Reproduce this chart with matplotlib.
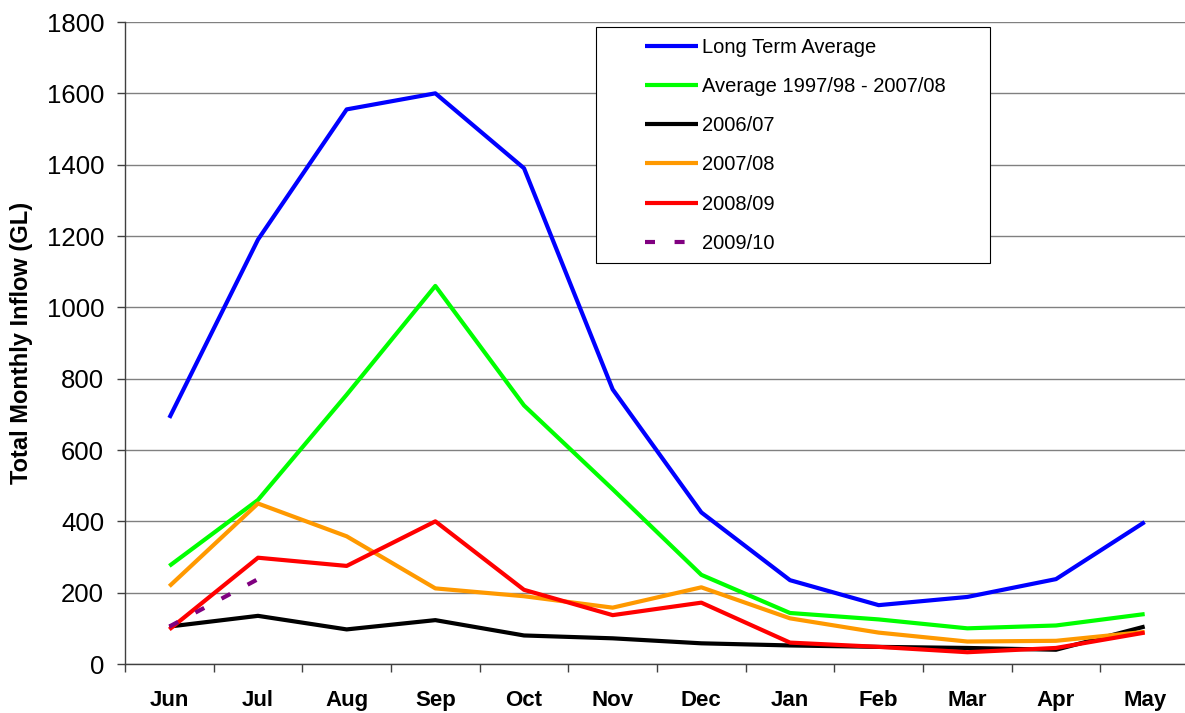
import numpy as np
import matplotlib
matplotlib.use("Agg")
from matplotlib import pyplot as plt
from matplotlib.patches import Rectangle

plt.rcParams['font.family'] = ['Liberation Sans', 'DejaVu Sans']

months = ['Jun', 'Jul', 'Aug', 'Sep', 'Oct', 'Nov', 'Dec', 'Jan', 'Feb', 'Mar', 'Apr', 'May']

long_term_avg = [690, 1190, 1555, 1600, 1390, 770, 425, 235, 165, 188, 238, 398]
avg_9708 = [275, 460, 755, 1060, 725, 490, 250, 143, 125, 100, 108, 140]
y2006_07 = [105, 135, 97, 123, 80, 72, 58, 52, 48, 45, 40, 105]
y2007_08 = [218, 450, 358, 212, 190, 158, 215, 128, 88, 63, 65, 90]
y2008_09 = [97, 298, 275, 400, 208, 137, 172, 60, 48, 33, 45, 88]
y2009_10 = [105, 238]

series = [
    ("Long Term Average", long_term_avg, "#0000FF"),
    ("Average 1997/98 - 2007/08", avg_9708, "#00FF00"),
    ("2006/07", y2006_07, "#000000"),
    ("2007/08", y2007_08, "#FF9900"),
    ("2008/09", y2008_09, "#FF0000"),
]

fig = plt.figure(figsize=(11.85, 7.13), dpi=100)
ax = fig.add_axes([125 / 1185, 49 / 713, 1064 / 1185, 642 / 713])

x = np.arange(len(months))
for label, vals, col in series:
    ax.plot(x[:len(vals)], vals, color=col, lw=3, label=label,
            solid_capstyle='butt', zorder=3)
ax.plot(x[:len(y2009_10)], y2009_10, color="#800080", lw=3, label="2009/10",
        dashes=(2.4, 4.7), dash_capstyle='butt', zorder=3)

ax.set_xlim(-0.5, 11.5)
ax.set_ylim(0, 1800)
ax.set_yticks(np.arange(0, 1801, 200))
ax.set_xticks(x)
ax.set_xticklabels(months, fontsize=16, fontweight='bold')
ax.set_xticks(np.arange(-0.5, 11.6, 1), minor=True)
ax.tick_params(axis='x', which='major', length=0, pad=19)
ax.tick_params(axis='x', which='minor', length=6, width=1, color='#404040')
ax.tick_params(axis='y', length=6, width=1, color='#404040', labelsize=18.5, pad=9)

ax.yaxis.grid(True, color='#808080', lw=1)
ax.set_axisbelow(True)
for s in ['top', 'right']:
    ax.spines[s].set_visible(False)
for s in ['left', 'bottom']:
    ax.spines[s].set_color('#404040')
    ax.spines[s].set_linewidth(1)

ax.set_ylabel("Total Monthly Inflow (GL)", fontsize=17, fontweight='bold', labelpad=10)

# legend box
ax.add_patch(Rectangle(((596 - 125) / 1064, (664 - 263) / 642),
                       (990 - 596) / 1064, (263 - 27) / 642,
                       transform=ax.transAxes, facecolor='white',
                       edgecolor='black', lw=0.8, zorder=4))
leg = ax.legend(loc='upper left', bbox_to_anchor=((645 - 125) / 1064, (664 - 38) / 642),
                frameon=False, fontsize=14.5, handlelength=2.63, handletextpad=0.2,
                labelspacing=1.0, borderpad=0, borderaxespad=0)
leg.set_zorder(5)

fig.savefig("out.png", dpi=100)
